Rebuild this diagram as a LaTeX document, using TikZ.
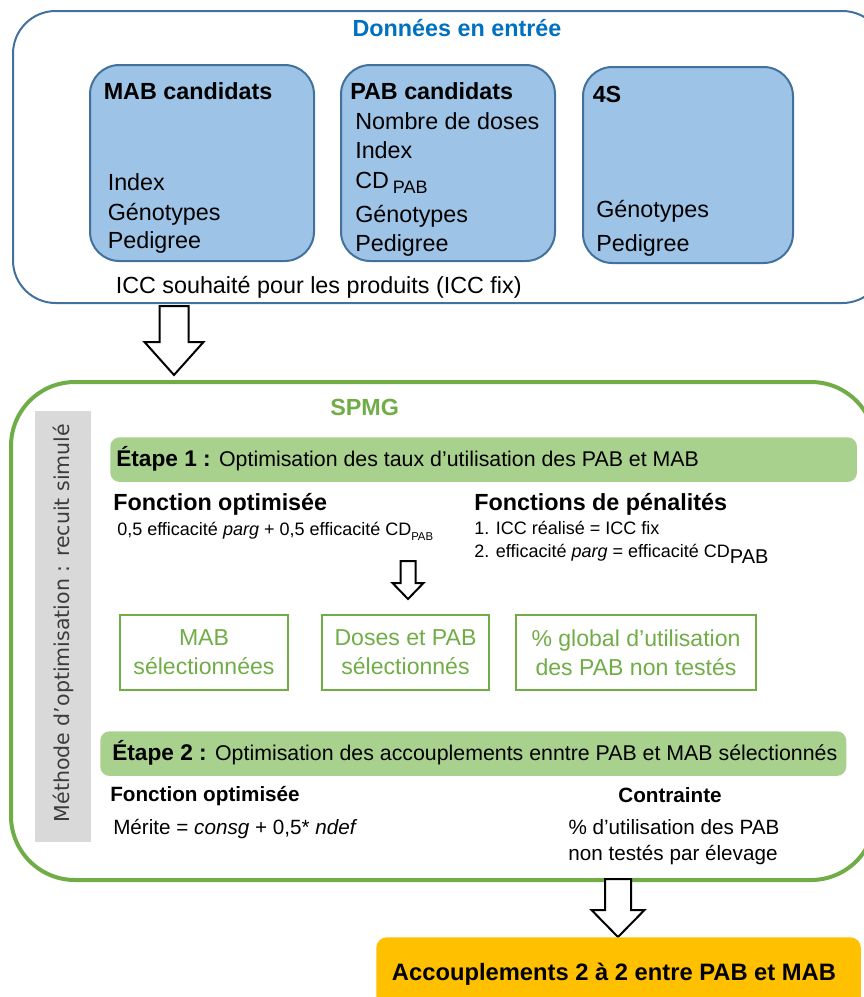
\documentclass[tikz,border=0pt]{standalone}
\usepackage{fontspec}
\setmainfont{Liberation Sans}
\newfontfamily\barfont{DejaVu Sans}
\usepackage{tikz}
\usetikzlibrary{positioning}
\definecolor{inblue}{RGB}{65, 113, 156}
\definecolor{boxblue}{RGB}{157, 195, 230}
\definecolor{titleblue}{RGB}{0, 112, 192}
\definecolor{spmggreen}{RGB}{112, 173, 71}
\definecolor{stepgreen}{RGB}{169, 209, 142}
\definecolor{bargrey}{RGB}{217, 217, 217}
\definecolor{outgold}{RGB}{255, 192, 0}
\definecolor{bartext}{RGB}{60, 60, 60}

% hollow block arrow: x, y top, y head, y tip, half shaft, half head
\newcommand{\hollowarrow}[6]{%
  \draw[hollow] (#1-#5,#2) -- (#1+#5,#2) -- (#1+#5,#3) -- (#1+#6,#3) -- (#1,#4)
    -- (#1-#6,#3) -- (#1-#5,#3) -- cycle;}

\begin{document}
\begin{tikzpicture}[
    x=0.75pt, y=-0.75pt,
    frame/.style={rectangle, anchor=north west, inner sep=0pt},
    inbox/.style={frame, draw=inblue, fill=boxblue, line width=1.5pt, rounded corners=22pt},
    stepbar/.style={frame, fill=stepgreen, rounded corners=7pt, minimum height=33.5pt},
    selbox/.style={rectangle, draw=spmggreen, line width=1.5pt, text=spmggreen, align=center,
        minimum height=56pt, font=\fontsize{17.3}{21.8}\selectfont},
    item/.style={anchor=base west, inner sep=0pt, font=\fontsize{17.5}{21}\selectfont},
    head/.style={item, font=\fontsize{17.5}{21}\selectfont\bfseries},
    small/.style={anchor=base west, inner sep=0pt, font=\fontsize{16}{19}\selectfont},
    tiny/.style={anchor=base west, inner sep=0pt, font=\fontsize{13.5}{16}\selectfont},
    hollow/.style={draw=black, fill=white, line width=1.5pt, line join=miter}
]
    \clip (0,0) rectangle (864,997);

    % Input data
    \node[frame, draw=inblue, line width=1.5pt, rounded corners=32pt,
        minimum width=654pt, minimum height=219pt] (indata) at (12,10) {};
    \node[anchor=base, inner sep=0pt, text=titleblue, font=\fontsize{17.5}{21}\selectfont\bfseries]
        (intitle) at (457,36.5) {Données en entrée};

    \node[inbox, minimum width=168pt, minimum height=147pt] (mab) at (89,64) {};
    \node[inbox, minimum width=160.5pt, minimum height=147pt] (pab) at (340,64) {};
    \node[inbox, minimum width=157.5pt, minimum height=147pt] (ss) at (582,66) {};

    \node[head] (mabhead) at (103.5,99) {MAB candidats};
    \foreach \t/\y [count=\i] in {Index/190, Génotypes/220, Pedigree/248}
        \node[item, name=mabitem\i] at (107.5,\y) {\t};

    \node[head] (pabhead) at (350,99) {PAB candidats};
    \foreach \t/\y [count=\i] in {Nombre de doses/129.5, Index/158,
        CD\,\raisebox{-3.8pt}{\fontsize{13.5}{14}\selectfont PAB}/188, Génotypes/222, Pedigree/251}
        \node[item, name=pabitem\i] at (355,\y) {\t};

    \node[head] (sshead) at (592.5,102) {4S};
    \node[item] (ssitem1) at (596,217) {Génotypes};
    \node[item] (ssitem2) at (596,251) {Pedigree};

    \node[item] (icc) at (115.5,293) {ICC souhaité pour les produits (ICC fix)};

    \hollowarrow{174}{306}{342}{375}{14.5}{29.5}

    % SPMG
    \node[frame, draw=spmggreen, line width=3pt, rounded corners=48pt,
        minimum width=648pt, minimum height=373.5pt] (spmg) at (9,380) {};
    \node[anchor=base west, inner sep=0pt, text=spmggreen, font=\fontsize{17.5}{21}\selectfont\bfseries]
        (spmgtitle) at (330,415) {SPMG};

    \node[frame, fill=bargrey, minimum width=42pt, minimum height=323pt] (bar) at (35,411) {};
    \node[rotate=90, inner sep=0pt, text=bartext, font=\barfont\fontsize{15.4}{18}\selectfont]
        (bartxt) at (63,623) {Méthode d’optimisation : recuit simulé};

    % Step 1
    \node[stepbar, minimum width=560pt] (step1) at (110,437) {};
    \node[small] (step1txt) at (116,466) {\fontsize{17}{19}\selectfont\bfseries Étape 1 :
        \fontsize{16}{19}\mdseries Optimisation des taux d’utilisation des PAB et MAB};

    \node[head] (fopt1) at (113,510) {Fonction optimisée};
    \node[tiny] (fopt1txt) at (117,535) {0,5 efficacité \emph{parg} + 0,5 efficacité
        CD\raisebox{-4pt}{\fontsize{8.5}{9}\selectfont PAB}};

    \node[head] (fpen) at (474,510) {Fonctions de pénalités};
    \node[tiny] (fpen1) at (474,534) {1. ICC réalisé = ICC fix};
    \node[tiny] (fpen2) at (474,557) {2. efficacité \emph{parg} = efficacité
        CD\raisebox{-4.5pt}{\fontsize{15}{15}\selectfont PAB}};

    \hollowarrow{408}{561}{583}{599}{7.5}{15.5}

    \node[selbox, minimum width=126pt] (selmab) at (204,652.5) {MAB\\sélectionnées};
    \node[selbox, minimum width=125pt] (seldose) at (405.5,652.5) {Doses et PAB\\sélectionnés};
    \node[selbox, minimum width=180pt] (selpct) at (636,652.5) {\% global d’utilisation\\des PAB non testés};

    % Step 2
    \node[stepbar, minimum width=559.5pt] (step2) at (100,731) {};
    \node[small] (step2txt) at (112,760) {\fontsize{17}{19}\selectfont\bfseries Étape 2 :
        \fontsize{16}{19}\mdseries Optimisation des accouplements enntre PAB et MAB sélectionnés};

    \node[small, font=\fontsize{15.5}{19}\selectfont\bfseries] (fopt2) at (110,801) {Fonction optimisée};
    \node[small, font=\fontsize{15.5}{19}\selectfont] (merit) at (113,834)
        {Mérite = \emph{consg} + 0,5* \emph{ndef}};

    \node[anchor=base, inner sep=0pt, font=\fontsize{15.5}{19}\selectfont\bfseries] (constr) at (670,802) {Contrainte};
    \node[anchor=base, inner sep=0pt, font=\fontsize{15.5}{19}\selectfont] (constr1) at (674,834) {\% d’utilisation des PAB};
    \node[anchor=base, inner sep=0pt, font=\fontsize{15.5}{19}\selectfont] (constr2) at (673,860) {non testés par élevage};

    \hollowarrow{618}{879}{910}{937}{13}{26.5}

    % Output
    \node[frame, fill=outgold, rounded corners=8pt, minimum width=363.5pt, minimum height=60pt] (out) at (376,937) {};
    \node[anchor=base, inner sep=0pt, font=\fontsize{17.8}{21}\selectfont\bfseries]
        (outtxt) at (614,980) {Accouplements 2 à 2 entre PAB et MAB};
\end{tikzpicture}
\end{document}
